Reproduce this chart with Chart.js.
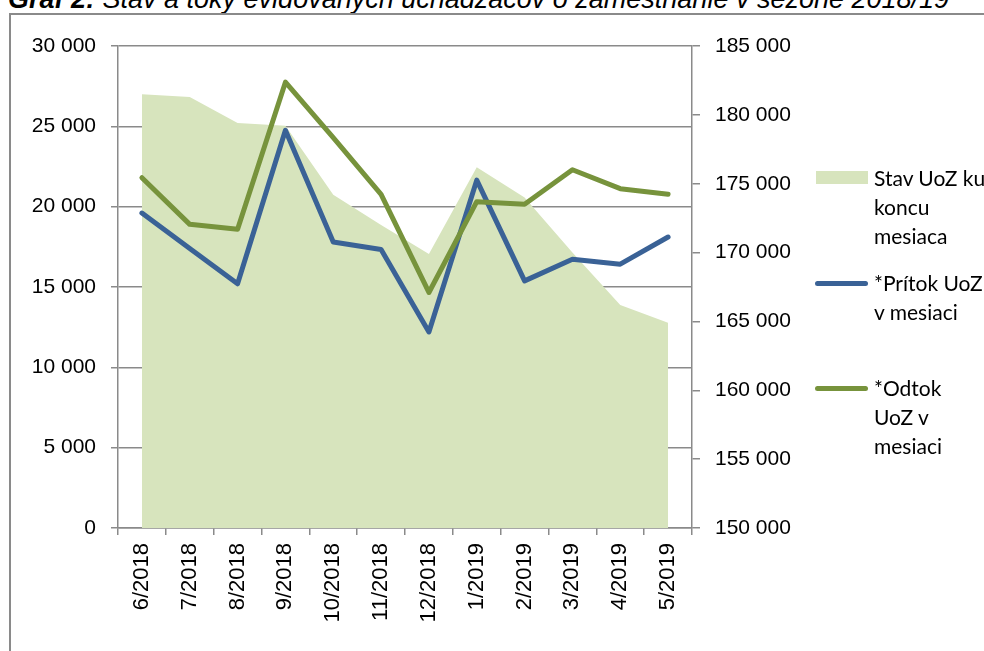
<!DOCTYPE html>
<html lang="sk">
<head>
<meta charset="utf-8">
<title>Graf 2</title>
<script src="https://cdn.jsdelivr.net/npm/chart.js@4.4.1/dist/chart.umd.min.js"></script>
<style>
  body { margin: 0; background: #fff; }
  #wrap { position: relative; width: 984px; height: 651px; overflow: hidden; background: #fff; }
  #title {
    position: absolute; left: 8px; top: -14px; white-space: nowrap;
    font: italic 27px/27px "Liberation Sans", Arial, sans-serif; color: #000;
  }
  #title b { font-weight: bold; }
  #frame {
    position: absolute; left: 9px; top: 13px; width: 1200px; height: 900px;
    border-left: 2px solid #8a8a8a; border-top: 2px solid #8a8a8a;
  }
  #chart { position: absolute; left: 0; top: 0; }
  .lg-text {
    position: absolute; left: 874px; white-space: nowrap;
    font: 21px/29px Lato, "Open Sans", sans-serif; color: #000;
  }
  .lg-swatch { position: absolute; left: 816px; width: 52px; height: 13px; background: #d7e4bd; }
  .lg-line { position: absolute; left: 815px; width: 53px; height: 5px; border-radius: 3px; }
</style>
</head>
<body>
<div id="wrap">
  <div id="title"><b>Graf 2:</b> Stav a toky evidovaných uchádzačov o zamestnanie v sezóne 2018/19</div>
  <div id="frame"></div>
  <canvas id="chart" width="984" height="651"></canvas>

  <div class="lg-swatch" style="top:171px"></div>
  <div class="lg-text" style="top:163px">Stav UoZ ku<br>koncu<br>mesiaca</div>

  <div class="lg-line" style="top:281px;background:#3a6296"></div>
  <div class="lg-text" style="top:268px">*Prítok UoZ<br>v mesiaci</div>

  <div class="lg-line" style="top:386px;background:#77933c"></div>
  <div class="lg-text" style="top:373px">*Odtok<br>UoZ v<br>mesiaci</div>
</div>

<script>
/* ─── Data ───────────────────────────────────────────────────────────────── */
const categories = ['6/2018', '7/2018', '8/2018', '9/2018', '10/2018', '11/2018',
                    '12/2018', '1/2019', '2/2019', '3/2019', '4/2019', '5/2019'];

// Stav UoZ ku koncu mesiaca (right axis)
const stavUoZ = [181500, 181300, 179400, 179200, 174200, 172000,
                 169900, 176200, 174000, 170000, 166200, 164900];

// *Prítok UoZ v mesiaci (left axis)
const pritok = [19600, 17400, 15200, 24750, 17800, 17330,
                12200, 21650, 15380, 16730, 16420, 18110];

// *Odtok UoZ v mesiaci (left axis)
const odtok = [21800, 18900, 18600, 27750, 24300, 20770,
               14660, 20310, 20150, 22300, 21120, 20770];

const leftTicks  = [0, 5000, 10000, 15000, 20000, 25000, 30000];
const rightTicks = [150000, 155000, 160000, 165000, 170000, 175000, 180000, 185000];

/* ─── Styling helpers ────────────────────────────────────────────────────── */
const GRID = '#8a8a8a';
const tickFont = { family: "'Liberation Sans', Arial, sans-serif", size: 21 };

// 30000 -> "30 000"
const fmt = v => String(v).replace(/\B(?=(\d{3})+(?!\d))/g, ' ');

/* ─── Chart ──────────────────────────────────────────────────────────────── */
new Chart(document.getElementById('chart'), {
  type: 'line',
  data: {
    labels: categories,
    datasets: [
      {
        label: 'Stav UoZ ku koncu mesiaca',
        data: stavUoZ,
        yAxisID: 'y1',
        fill: 'start',
        backgroundColor: '#d7e4bd',
        borderWidth: 0,
        pointRadius: 0,
        order: 2,
      },
      {
        label: '*Prítok UoZ v mesiaci',
        data: pritok,
        yAxisID: 'y',
        borderColor: '#3a6296',
        borderWidth: 5,
        borderJoinStyle: 'round',
        borderCapStyle: 'round',
        pointRadius: 0,
        fill: false,
        order: 1,
      },
      {
        label: '*Odtok UoZ v mesiaci',
        data: odtok,
        yAxisID: 'y',
        borderColor: '#77933c',
        borderWidth: 5,
        borderJoinStyle: 'round',
        borderCapStyle: 'round',
        pointRadius: 0,
        fill: false,
        order: 0,
      },
    ],
  },
  options: {
    responsive: false,
    animation: false,
    devicePixelRatio: 1,
    layout: { padding: { top: 46, left: 0, right: 0, bottom: 0 } },
    plugins: {
      legend: { display: false },
      tooltip: { enabled: false },
    },
    scales: {
      x: {
        offset: true,
        grid: { offset: true, drawOnChartArea: false, tickLength: 7, color: GRID, lineWidth: 1.5 },
        border: { color: GRID, width: 1.5 },
        ticks: {
          minRotation: 90, maxRotation: 90, autoSkip: false,
          font: { ...tickFont, size: 22 }, color: '#000', padding: 8,
        },
        afterFit: s => { s.height = 123; },
      },
      y: {
        position: 'left',
        min: 0, max: 30000,
        afterBuildTicks: s => { s.ticks = leftTicks.map(v => ({ value: v })); },
        grid: { color: GRID, lineWidth: 1.5, tickLength: 7 },
        border: { color: GRID, width: 1.5 },
        ticks: { padding: 15, font: tickFont, color: '#000', callback: fmt },
        afterFit: s => { s.width = 118; },
      },
      y1: {
        position: 'right',
        min: 150000, max: 185000,
        afterBuildTicks: s => { s.ticks = rightTicks.map(v => ({ value: v })); },
        grid: { drawOnChartArea: false, color: GRID, lineWidth: 1.5, tickLength: 8 },
        border: { color: GRID, width: 1.5 },
        ticks: { padding: 15, font: tickFont, color: '#000', callback: fmt },
        afterFit: s => { s.width = 292; },
      },
    },
  },
});
</script>
</body>
</html>
